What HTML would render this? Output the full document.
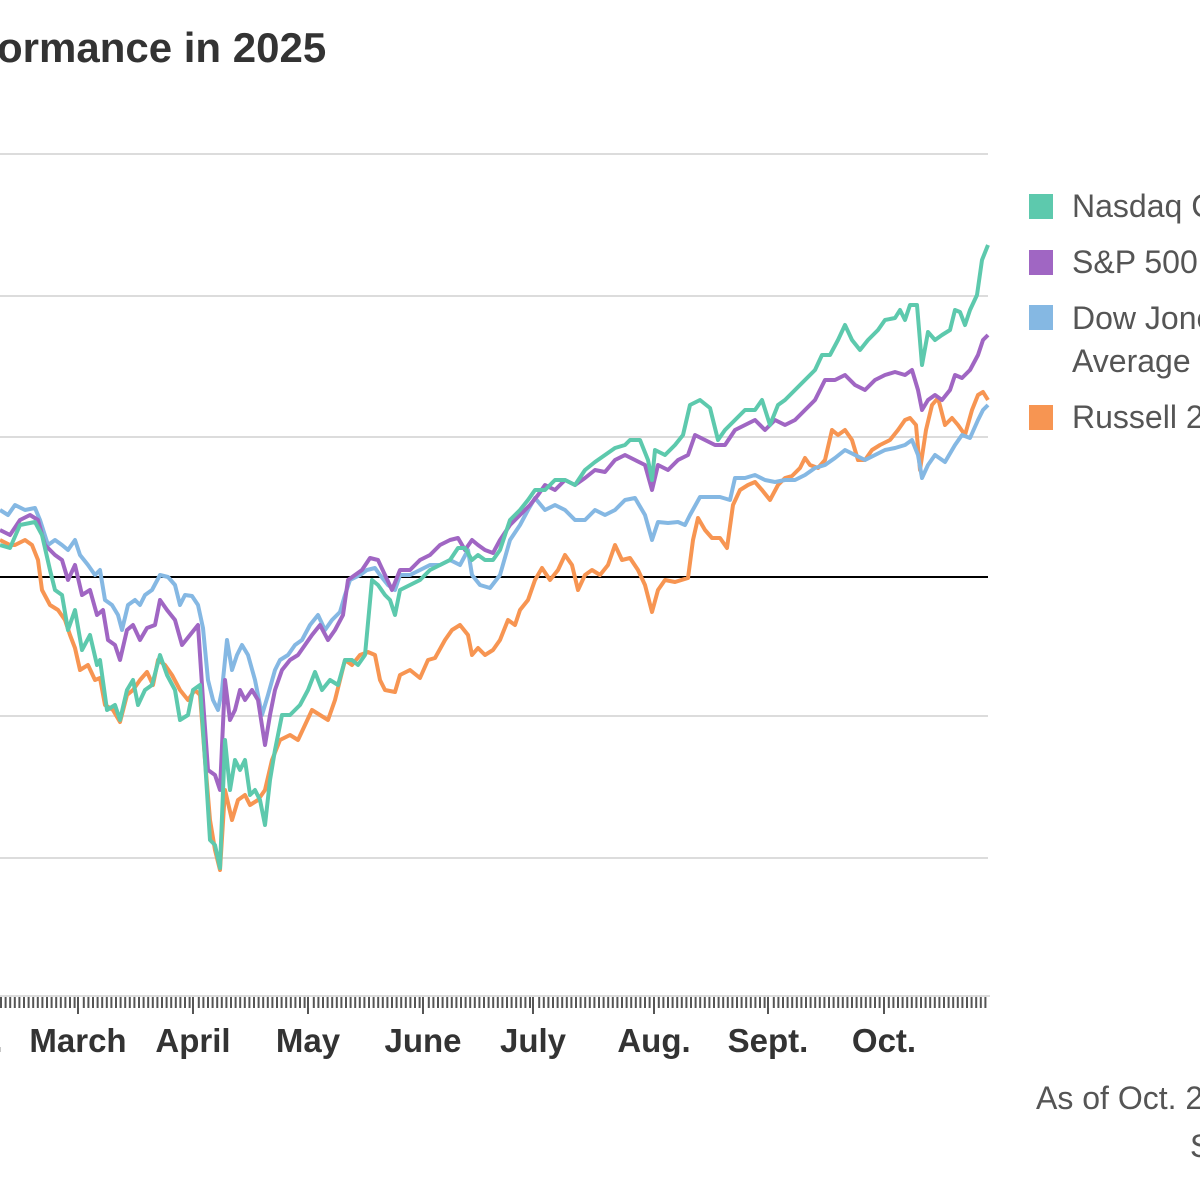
<!DOCTYPE html>
<html><head><meta charset="utf-8"><style>
html,body{margin:0;padding:0;background:#fff;width:1200px;height:1200px;overflow:hidden}
svg text{font-family:"Liberation Sans",sans-serif}
</style></head><body>
<svg width="1200" height="1200" viewBox="0 0 1200 1200" xmlns="http://www.w3.org/2000/svg">
<text x="-3" y="62" font-size="42" font-weight="bold" fill="#333">ormance in 2025</text>
<g stroke="#dcdcdc" stroke-width="2">
<line x1="0" y1="154" x2="988" y2="154"/><line x1="0" y1="296" x2="988" y2="296"/>
<line x1="0" y1="437" x2="988" y2="437"/><line x1="0" y1="716" x2="988" y2="716"/>
<line x1="0" y1="858" x2="988" y2="858"/><line x1="0" y1="996" x2="990" y2="996"/>
</g>
<line x1="0" y1="577" x2="988" y2="577" stroke="#000" stroke-width="2"/>
<g id="ticks" stroke="#555" stroke-width="2"></g>
<g font-size="33" font-weight="bold" fill="#333" text-anchor="middle">
<text x="-2" y="1052">.</text><text x="78" y="1052">March</text><text x="193" y="1052">April</text>
<text x="308" y="1052">May</text><text x="423" y="1052">June</text><text x="533" y="1052">July</text>
<text x="654" y="1052">Aug.</text><text x="768" y="1052">Sept.</text><text x="884" y="1052">Oct.</text>
</g>
<g fill="none" stroke-width="4" stroke-linejoin="round">
<polyline stroke="#f79552" points="0,540 10,545 15,545 25,540 32,545 38,560 42,590 50,605 58,610 65,620 70,635 75,648 80,670 88,665 95,680 100,678 105,705 113,710 120,722 127,695 133,690 140,680 147,672 153,685 158,660 165,665 172,675 180,690 188,700 195,690 200,695 205,760 210,820 215,850 220,870 225,790 232,820 238,800 245,795 250,805 258,800 265,790 272,760 280,740 290,735 298,740 305,725 312,710 320,715 328,720 335,700 340,680 345,660 352,665 360,655 368,652 375,655 380,680 385,690 395,692 400,675 410,670 420,678 428,660 435,658 445,640 452,630 460,625 468,635 472,655 478,648 485,655 493,650 500,640 508,620 515,625 520,610 528,600 535,580 542,568 550,580 558,570 565,555 572,565 578,590 585,575 592,570 600,575 608,565 615,545 622,560 630,558 638,570 645,585 652,612 658,590 665,580 675,582 688,578 693,540 698,518 705,530 712,538 720,538 727,548 733,505 740,490 748,485 755,482 762,490 770,500 778,485 785,478 792,476 800,468 805,458 810,465 818,468 825,460 832,430 838,435 845,430 852,440 858,460 865,460 872,450 880,445 890,440 898,430 905,420 910,418 916,425 920,470 926,430 932,405 938,398 945,425 952,418 958,425 965,435 972,410 978,395 983,392 988,400"/>
<polyline stroke="#85b8e3" points="0,510 8,515 15,505 25,510 35,508 40,520 48,545 55,540 62,545 68,550 75,540 80,555 88,565 95,575 100,570 105,600 112,605 118,615 122,630 128,605 135,600 140,605 145,595 152,590 160,575 168,577 175,585 180,605 185,595 192,596 198,605 203,628 208,680 213,700 218,710 222,690 227,640 232,670 237,655 242,645 248,655 255,680 262,715 268,695 275,670 280,660 288,655 295,645 302,640 310,625 318,615 325,630 332,620 340,612 345,595 350,580 360,575 367,570 375,568 380,575 388,585 395,590 400,575 410,575 420,570 430,565 440,565 450,560 460,565 468,550 472,575 480,585 490,588 500,575 510,540 520,525 528,510 535,498 545,510 555,505 565,510 575,520 585,520 595,510 605,515 615,510 625,500 635,498 645,515 652,540 658,522 668,523 678,522 685,525 690,515 700,497 710,497 720,497 730,500 735,478 745,478 755,475 765,480 775,482 785,480 795,480 805,475 815,468 825,465 835,458 845,450 855,455 865,460 875,455 885,450 895,448 905,445 912,440 918,455 922,478 928,465 935,455 945,462 955,445 962,435 970,438 978,420 983,410 988,405"/>
<polyline stroke="#a066c3" points="0,530 10,535 20,520 30,515 38,520 45,545 55,555 62,560 68,580 75,565 82,595 90,590 97,615 103,610 108,640 115,645 120,660 127,630 133,625 140,640 147,628 155,625 160,600 167,610 175,620 182,645 190,635 198,625 203,700 208,770 215,775 220,790 225,680 230,720 235,710 240,690 245,700 252,690 258,700 265,745 270,715 275,690 282,670 290,660 298,655 305,645 312,635 320,625 328,640 335,630 343,615 348,580 355,575 362,570 370,558 378,560 385,575 392,590 400,570 410,570 420,560 430,555 440,545 450,540 458,538 465,550 472,540 478,545 485,550 493,553 500,540 510,525 520,515 530,505 538,495 545,485 555,490 565,480 575,485 585,478 595,470 605,472 615,460 625,455 635,460 645,465 652,490 658,465 668,470 678,460 688,455 695,435 705,440 715,445 725,445 735,430 745,425 755,420 765,430 775,420 785,425 795,420 805,410 815,400 825,380 835,380 845,375 855,385 865,390 875,380 885,375 895,372 905,375 912,370 918,390 922,410 928,400 935,395 942,400 950,390 955,375 962,378 970,370 978,355 983,340 988,335"/>
<polyline stroke="#5dc9ad" points="0,545 10,548 20,525 35,522 42,535 50,570 55,590 62,595 68,630 75,610 82,650 90,635 97,665 100,660 107,710 115,705 120,720 127,690 133,680 138,705 145,690 152,685 160,655 167,675 175,690 180,720 188,715 193,690 200,685 205,760 210,840 215,845 220,868 225,740 230,790 235,760 240,770 245,760 250,795 255,790 260,800 265,825 270,780 275,750 282,715 290,715 300,705 308,690 315,672 322,690 330,680 338,685 345,660 352,660 358,665 365,655 372,580 378,585 385,595 390,600 395,615 400,590 410,585 420,580 430,570 440,565 450,560 458,548 465,548 472,560 478,555 485,560 493,560 500,550 510,520 520,510 528,500 535,490 545,490 555,480 565,480 575,485 585,470 595,462 605,455 615,448 625,445 630,440 640,440 648,460 652,480 655,450 665,455 675,445 683,435 690,405 700,400 710,408 718,440 725,430 735,420 745,410 755,410 762,400 770,425 778,405 785,400 795,390 805,380 815,370 822,355 830,355 838,340 845,325 852,340 860,350 868,340 878,330 885,320 895,318 900,310 905,320 910,305 917,305 922,365 928,332 935,340 942,335 950,330 955,310 960,312 965,325 970,310 977,295 982,260 988,245"/>
</g>
<rect x="1029" y="194" width="24" height="25" fill="#5dc9ad"/>
<rect x="1029" y="250" width="24" height="25" fill="#a066c3"/>
<rect x="1029" y="305" width="24" height="25" fill="#85b8e3"/>
<rect x="1029" y="405" width="24" height="25" fill="#f79552"/>
<g font-size="32" fill="#555">
<text x="1072" y="217">Nasdaq Composite</text>
<text x="1072" y="273">S&amp;P 500</text>
<text x="1072" y="329">Dow Jones Industrial</text>
<text x="1072" y="372">Average</text>
<text x="1072" y="428">Russell 2000</text>
<text x="1036" y="1109">As of Oct. 28</text>
<text x="1190" y="1157">S</text>
</g>
</svg>
<script>
var g=document.getElementById('ticks'),s='';
var majors=[78,193,308,423,533,654,768,884];
for(var x=1;x<=990;x+=4.6){
  var near=majors.some(function(m){return Math.abs(m-x)<2.3});
  var xx=near?majors.filter(function(m){return Math.abs(m-x)<2.3})[0]:x;
  s+='<line x1="'+xx.toFixed(1)+'" y1="997" x2="'+xx.toFixed(1)+'" y2="'+(near?1014:1008)+'"/>';
}
g.innerHTML=s;
</script>
</body></html>
